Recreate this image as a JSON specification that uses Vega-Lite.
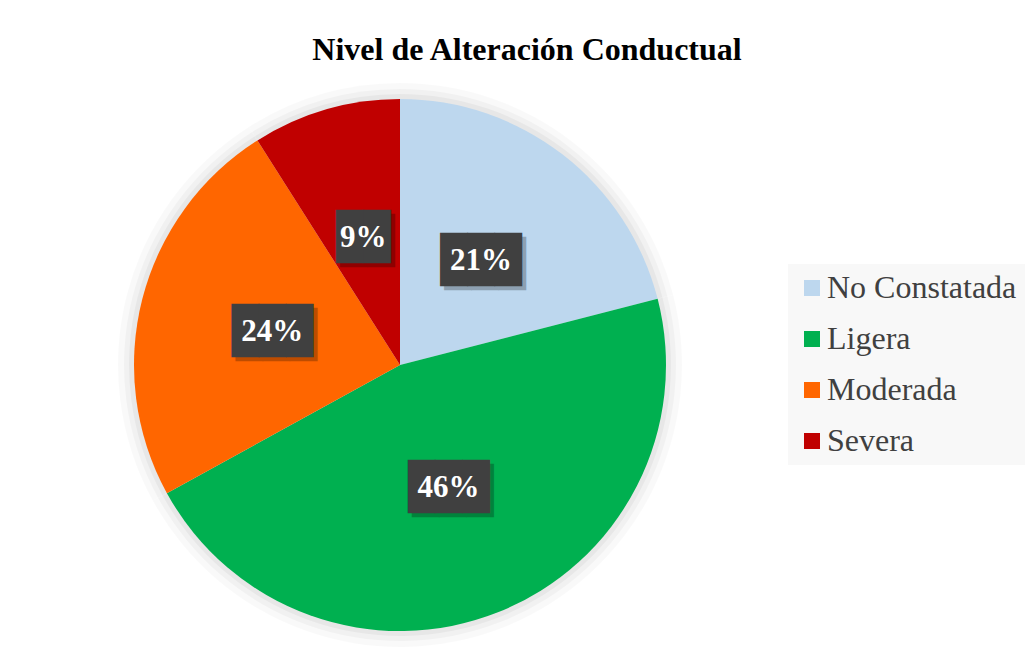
{
  "$schema": "https://vega.github.io/schema/vega-lite/v6.json",
  "autosize": {"type": "none"},
  "width": 532,
  "height": 532,
  "padding": {"left": 134, "top": 99, "right": 365, "bottom": 23},
  "background": "white",
  "config": {"view": {"stroke": null}},
  "title": {
    "text": "Nivel de Alteración Conductual",
    "font": "Liberation Serif",
    "fontSize": 32,
    "fontWeight": "bold",
    "color": "#000000",
    "anchor": "middle",
    "dx": 127,
    "baseline": "alphabetic",
    "offset": -9
  },
  "data": {
    "values": [
      {"nivel": "No Constatada", "porcentaje": 0.21, "orden": 1},
      {"nivel": "Ligera", "porcentaje": 0.46, "orden": 2},
      {"nivel": "Moderada", "porcentaje": 0.24, "orden": 3},
      {"nivel": "Severa", "porcentaje": 0.09, "orden": 4}
    ]
  },
  "encoding": {
    "theta": {"field": "porcentaje", "type": "quantitative", "stack": true},
    "order": {"field": "orden", "type": "quantitative"}
  },
  "layer": [
    {"mark": {"type": "arc", "outerRadius": 282, "color": "#000000", "opacity": 0.025}},
    {"mark": {"type": "arc", "outerRadius": 276, "color": "#000000", "opacity": 0.03}},
    {"mark": {"type": "arc", "outerRadius": 271, "color": "#000000", "opacity": 0.04}},
    {
      "mark": {"type": "arc", "outerRadius": 266},
      "encoding": {
        "color": {
          "field": "nivel",
          "type": "nominal",
          "sort": ["No Constatada", "Ligera", "Moderada", "Severa"],
          "scale": {
            "domain": ["No Constatada", "Ligera", "Moderada", "Severa"],
            "range": ["#BDD7EE", "#00B050", "#FF6600", "#C00000"]
          },
          "legend": {
            "title": null,
            "orient": "none",
            "legendX": 654,
            "legendY": 165,
            "fillColor": "#F8F8F8",
            "padding": 8,
            "symbolType": "square",
            "symbolSize": 256,
            "symbolStrokeWidth": 0,
            "labelFont": "Liberation Serif",
            "labelFontSize": 32,
            "labelColor": "#404040",
            "labelOffset": -1,
            "labelLimit": 400,
            "rowPadding": 19
          }
        }
      }
    },
    {
      "mark": {"type": "text", "font": "DejaVu Sans Mono", "fontSize": 45, "color": "#000000", "opacity": 0.25, "baseline": "middle", "align": "center", "dx": 4, "dy": 4},
      "encoding": {
        "radius": {"value": 132},
        "text": {"condition": {"test": "datum.nivel === 'Severa'", "value": "██"}, "value": "███"}
      }
    },
    {
      "mark": {"type": "text", "font": "DejaVu Sans Mono", "fontSize": 45, "color": "#404040", "baseline": "middle", "align": "center"},
      "encoding": {
        "radius": {"value": 132},
        "text": {"condition": {"test": "datum.nivel === 'Severa'", "value": "██"}, "value": "███"}
      }
    },
    {
      "mark": {"type": "text", "font": "Liberation Serif", "fontSize": 31, "fontWeight": "bold", "color": "#FFFFFF", "baseline": "middle", "align": "center"},
      "encoding": {
        "radius": {"value": 132},
        "text": {"field": "porcentaje", "type": "quantitative", "format": ".0%"}
      }
    }
  ]
}
